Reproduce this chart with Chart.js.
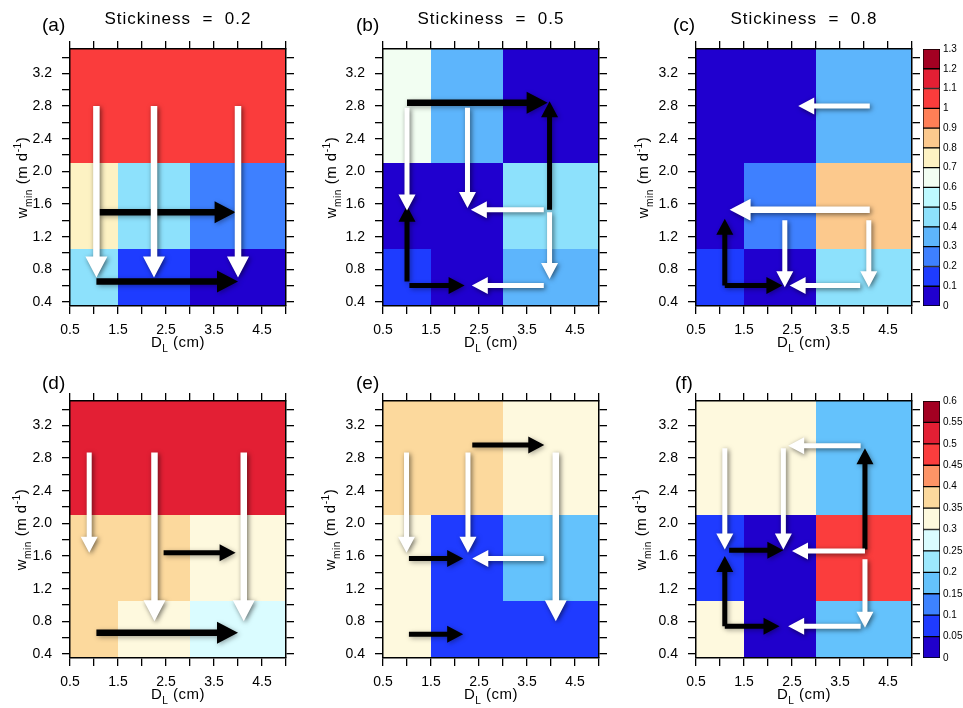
<!DOCTYPE html>
<html>
<head>
<meta charset="utf-8">
<script src="https://cdn.jsdelivr.net/npm/chart.js@4.4.1/dist/chart.umd.min.js"></script>
<style>
  html, body { margin: 0; padding: 0; background: #fff; }
  #quadro { position: relative; width: 963px; height: 708px; overflow: hidden; background: #fff; }
  #quadro canvas { position: absolute; }
</style>
</head>
<body>
<div id="quadro"></div>
<script>
// limites das celulas: D_L (cm) e w_min (m/d)
const limitesD = [0.5, 1.5, 3.0, 5.0]
const limitesW = [0.35, 1.05, 2.1, 3.5]

// ticks dos eixos
const ticksX = [0.5, 1.0, 1.5, 2.0, 2.5, 3.0, 3.5, 4.0, 4.5, 5.0]
const rotulosX = ['0.5', '', '1.5', '', '2.5', '', '3.5', '', '4.5', '']
const ticksY = [0.4, 0.6, 0.8, 1.0, 1.2, 1.4, 1.6, 1.8, 2.0, 2.2, 2.4, 2.6, 2.8, 3.0, 3.2, 3.4]
const rotulosY = ['0.4', '', '0.8', '', '1.2', '', '1.6', '', '2.0', '', '2.4', '', '2.8', '', '3.2', '']

// barras de cores
const niveisCima = [0, 0.1, 0.2, 0.3, 0.4, 0.5, 0.6, 0.7, 0.8, 0.9, 1.0, 1.1, 1.2, 1.3]
const coresCima = ['#2000cf', '#1e3cff', '#3e80ff', '#5db5fc', '#8de1fc', '#bdf9ff', '#f2fef2',
                   '#fdf2c3', '#fcc98d', '#ff7f56', '#fa3c3c', '#e31f34', '#a30022']
const niveisBaixo = [0, 0.05, 0.1, 0.15, 0.2, 0.25, 0.3, 0.35, 0.4, 0.45, 0.5, 0.55, 0.6]
const coresBaixo = ['#2000cc', '#1f3bff', '#3d82ff', '#64c2fc', '#9de8fd', '#dafcff',
                    '#fef9de', '#fcd99d', '#fd9466', '#fb3d3d', '#e31f34', '#a30022']

// valores das celulas: linhas w = 0.7, 1.4, 2.8 ; colunas D = 1, 2, 4
const valoresA = [[0.45, 0.15, 0.05], [0.75, 0.45, 0.25], [1.05, 1.05, 1.05]]
const valoresB = [[0.15, 0.05, 0.35], [0.05, 0.05, 0.45], [0.65, 0.35, 0.05]]
const valoresC = [[0.15, 0.05, 0.45], [0.05, 0.25, 0.85], [0.05, 0.05, 0.35]]
const valoresD = [[0.375, 0.325, 0.275], [0.375, 0.375, 0.325], [0.525, 0.525, 0.525]]
const valoresE = [[0.325, 0.075, 0.075], [0.325, 0.075, 0.175], [0.375, 0.375, 0.325]]
const valoresF = [[0.325, 0.025, 0.175], [0.075, 0.025, 0.475], [0.325, 0.325, 0.175]]

// setas: [D inicio, w inicio, D fim, w fim, cor, tamanho]
const setasA = [
  [1.1, 1.5, 3.95, 1.5, 'k', 'G'], [1.05, 0.65, 4.0, 0.65, 'k', 'G'],
  [1.05, 2.8, 1.05, 0.7, 'w', 'G'], [2.25, 2.8, 2.25, 0.7, 'w', 'G'], [4.0, 2.8, 4.0, 0.7, 'w', 'G']
]
const setasB = [
  [1.0, 2.84, 3.93, 2.84, 'k', 'G'], [3.97, 1.53, 3.97, 2.86, 'k', 'M'],
  [1.0, 0.65, 1.0, 1.58, 'k', 'M'], [1.05, 0.6, 2.2, 0.6, 'k', 'M'],
  [1.0, 2.78, 1.0, 1.52, 'w', 'M'], [2.26, 2.78, 2.26, 1.55, 'w', 'M'],
  [3.85, 1.53, 2.33, 1.53, 'w', 'M'], [3.97, 1.5, 3.97, 0.68, 'w', 'M'],
  [3.85, 0.6, 2.35, 0.6, 'w', 'M']
]
const setasC = [
  [1.1, 0.6, 1.1, 1.42, 'k', 'M'], [1.1, 0.6, 2.3, 0.6, 'k', 'M'],
  [4.12, 2.8, 2.63, 2.8, 'w', 'M'], [4.12, 1.53, 1.2, 1.53, 'w', 'G'],
  [2.35, 1.4, 2.35, 0.58, 'w', 'M'], [4.1, 1.4, 4.1, 0.58, 'w', 'M'],
  [3.92, 0.6, 2.45, 0.6, 'w', 'M']
]
const setasD = [
  [2.45, 1.64, 3.95, 1.64, 'k', 'M'], [1.05, 0.66, 4.0, 0.66, 'k', 'G'],
  [0.9, 2.87, 0.9, 1.64, 'w', 'M'], [2.26, 2.87, 2.26, 0.8, 'w', 'G'], [4.12, 2.87, 4.12, 0.8, 'w', 'G']
]
const setasE = [
  [2.36, 2.96, 3.86, 2.96, 'k', 'M'], [1.04, 1.57, 2.17, 1.57, 'k', 'M'], [1.04, 0.64, 2.17, 0.64, 'k', 'M'],
  [0.99, 2.87, 0.99, 1.64, 'w', 'M'], [2.27, 2.87, 2.27, 1.64, 'w', 'M'],
  [4.1, 2.87, 4.1, 0.8, 'w', 'G'], [3.85, 1.57, 2.36, 1.57, 'w', 'M']
]
const setasF = [
  [4.02, 1.68, 4.02, 2.92, 'k', 'M'], [1.19, 1.67, 2.32, 1.67, 'k', 'M'],
  [1.1, 0.74, 1.1, 1.6, 'k', 'M'], [1.1, 0.74, 2.24, 0.74, 'k', 'M'],
  [3.93, 2.95, 2.42, 2.95, 'w', 'M'], [1.1, 2.92, 1.1, 1.68, 'w', 'M'],
  [2.32, 2.92, 2.32, 1.68, 'w', 'M'], [4.02, 1.66, 2.5, 1.66, 'w', 'M'],
  [4.02, 1.56, 4.02, 0.72, 'w', 'M'], [3.93, 0.74, 2.42, 0.74, 'w', 'M']
]

const FONTE = '"Liberation Sans", Arial, sans-serif'
const tamSeta = { G: [22, 21, 6.5], M: [17, 16, 5] } // largura cabeca, comprimento cabeca, haste
const quadro = document.getElementById('quadro')

const corDoValor = (v, niveis, cores) => {
  for (let i = 0; i < cores.length; i++) {
    if (v >= niveis[i] && v < niveis[i + 1]) return cores[i]
  }
  return cores[cores.length - 1]
}

const novoCanvas = (caixa) => {
  const cv = document.createElement('canvas')
  cv.width = caixa[2]
  cv.height = caixa[3]
  cv.style.left = caixa[0] + 'px'
  cv.style.top = caixa[1] + 'px'
  quadro.appendChild(cv)
  return cv
}

// texto com subscrito / sobrescrito
const textoRico = (ctx, partes, x, y, tam, girar) => {
  ctx.save()
  ctx.translate(x, y)
  if (girar) ctx.rotate(-Math.PI / 2)
  ctx.fillStyle = '#000'
  ctx.textBaseline = 'alphabetic'
  ctx.textAlign = 'left'
  if ('letterSpacing' in ctx) ctx.letterSpacing = '0.5px'
  let total = 0
  partes.forEach(p => {
    ctx.font = (p[1] ? tam * 0.68 : tam) + 'px ' + FONTE
    total += ctx.measureText(p[0]).width
  })
  let cx = -total / 2
  partes.forEach(p => {
    ctx.font = (p[1] ? tam * 0.68 : tam) + 'px ' + FONTE
    const dy = p[1] === 'sub' ? tam * 0.3 : p[1] === 'sup' ? -tam * 0.42 : 0
    ctx.fillText(p[0], cx, dy)
    cx += ctx.measureText(p[0]).width
  })
  ctx.restore()
}

const desenhaSeta = (ctx, x0, y0, x1, y1, cor, tam) => {
  const [lc, cc, h] = tamSeta[tam]
  const len = Math.hypot(x1 - x0, y1 - y0)
  const dx = (x1 - x0) / len, dy = (y1 - y0) / len
  const nx = -dy, ny = dx
  const bx = x1 - dx * cc, by = y1 - dy * cc
  ctx.save()
  ctx.beginPath()
  ctx.moveTo(x0 + nx * h / 2, y0 + ny * h / 2)
  ctx.lineTo(bx + nx * h / 2, by + ny * h / 2)
  ctx.lineTo(bx + nx * lc / 2, by + ny * lc / 2)
  ctx.lineTo(x1, y1)
  ctx.lineTo(bx - nx * lc / 2, by - ny * lc / 2)
  ctx.lineTo(bx - nx * h / 2, by - ny * h / 2)
  ctx.lineTo(x0 - nx * h / 2, y0 - ny * h / 2)
  ctx.closePath()
  ctx.shadowColor = cor === 'w' ? 'rgba(0,0,0,0.55)' : 'rgba(0,0,0,0.35)'
  ctx.shadowBlur = 5
  ctx.shadowOffsetX = 1.5
  ctx.shadowOffsetY = 1.5
  ctx.fillStyle = cor === 'w' ? '#ffffff' : '#000000'
  ctx.fill()
  ctx.restore()
}

// plugin que pinta as celulas, as setas e os textos de cada painel
const painelPlugin = {
  id: 'painel',
  beforeDraw: (chart) => {
    const p = chart.options.plugins.painel
    const ctx = chart.ctx
    const sx = chart.scales.x, sy = chart.scales.y
    p.valores.forEach((linha, r) => {
      linha.forEach((v, c) => {
        const xa = Math.round(sx.getPixelForValue(limitesD[c]))
        const xb = Math.round(sx.getPixelForValue(limitesD[c + 1]))
        const ya = Math.round(sy.getPixelForValue(limitesW[r]))
        const yb = Math.round(sy.getPixelForValue(limitesW[r + 1]))
        ctx.fillStyle = corDoValor(v, p.niveis, p.cores)
        ctx.fillRect(xa, yb, xb - xa, ya - yb)
      })
    })
  },
  afterDraw: (chart) => {
    const p = chart.options.plugins.painel
    const ctx = chart.ctx
    const sx = chart.scales.x, sy = chart.scales.y
    const area = chart.chartArea
    const pretas = p.setas.filter(s => s[4] === 'k')
    const brancas = p.setas.filter(s => s[4] === 'w')
    pretas.concat(brancas).forEach(s => {
      desenhaSeta(ctx, sx.getPixelForValue(s[0]), sy.getPixelForValue(s[1]),
                  sx.getPixelForValue(s[2]), sy.getPixelForValue(s[3]), s[4], s[5])
    })
    const ox = p.caixa[0], oy = p.caixa[1]
    ctx.save()
    ctx.fillStyle = '#000'
    ctx.textBaseline = 'alphabetic'
    ctx.font = '19px ' + FONTE
    ctx.textAlign = 'left'
    ctx.fillText(p.letra, p.posLetra[0] - ox, p.posLetra[1] - oy)
    if (p.titulo) {
      ctx.font = '17px ' + FONTE
      ctx.textAlign = 'center'
      if ('letterSpacing' in ctx) ctx.letterSpacing = '1px'
      ctx.fillText(p.titulo, (area.left + area.right) / 2, 24 - oy)
    }
    ctx.restore()
    textoRico(ctx, [['D', 0], ['L', 'sub'], [' (cm)', 0]], (area.left + area.right) / 2, area.bottom + 41, 15, false)
    textoRico(ctx, [['w', 0], ['min', 'sub'], [' (m d', 0], ['-1', 'sup'], [')', 0]],
              p.xTituloY - ox, (area.top + area.bottom) / 2, 15, true)
  }
}

const eixo = (pos, ticks, rotulos, min, max, tamanho) => ({
  type: 'linear',
  axis: pos === 'top' || pos === 'bottom' ? 'x' : 'y',
  position: pos,
  min: min,
  max: max,
  afterBuildTicks: s => { s.ticks = ticks.map(v => ({ value: v })) },
  afterFit: s => {
    if (pos === 'top' || pos === 'bottom') s.height = tamanho
    else s.width = tamanho
  },
  grid: { drawOnChartArea: false, drawTicks: true, tickLength: 8, color: '#000', lineWidth: 1.3 },
  border: { display: true, color: '#000', width: 1.5 },
  ticks: {
    display: rotulos !== null,
    autoSkip: false,
    maxRotation: 0,
    minRotation: 0,
    padding: pos === 'left' ? 10 : 8,
    color: '#000',
    font: { family: FONTE, size: 14 },
    callback: (v, i) => rotulos ? rotulos[i] : ''
  }
})

const criaPainel = (cfg) => {
  const cv = novoCanvas(cfg.caixa)
  const [cl, ct, cw, ch] = cfg.caixa
  const [pl, pt, pr, pb] = cfg.area
  new Chart(cv, {
    type: 'scatter',
    data: { datasets: [] },
    options: {
      responsive: false,
      animation: false,
      layout: { padding: 0 },
      plugins: {
        legend: { display: false },
        tooltip: { enabled: false },
        painel: cfg
      },
      scales: {
        x: eixo('bottom', ticksX, rotulosX, 0.5, 5.0, ct + ch - pb),
        x2: eixo('top', ticksX, null, 0.5, 5.0, pt - ct),
        y: eixo('left', ticksY, rotulosY, 0.35, 3.5, pl - cl),
        y2: eixo('right', ticksY, null, 0.35, 3.5, cl + cw - pr)
      }
    },
    plugins: [painelPlugin]
  })
}

const criaBarraCores = (caixa, area, niveis, cores) => {
  const cv = novoCanvas(caixa)
  const [cl, ct, cw, ch] = caixa
  const [pl, pt, pr, pb] = area
  new Chart(cv, {
    type: 'bar',
    data: {
      labels: [''],
      datasets: cores.map((c, i) => ({
        data: [[niveis[i], niveis[i + 1]]],
        backgroundColor: c,
        borderColor: '#000',
        borderWidth: 1,
        borderSkipped: false,
        grouped: false,
        barPercentage: 1,
        categoryPercentage: 1
      }))
    },
    options: {
      responsive: false,
      animation: false,
      layout: { padding: { left: pl - cl, top: pt - ct, bottom: ct + ch - pb, right: 0 } },
      plugins: { legend: { display: false }, tooltip: { enabled: false } },
      scales: {
        x: { display: false },
        y: {
          position: 'right',
          min: niveis[0],
          max: niveis[niveis.length - 1],
          afterBuildTicks: s => { s.ticks = niveis.map(v => ({ value: v })) },
          afterFit: s => { s.width = cl + cw - pr },
          grid: { display: false, drawTicks: false },
          border: { display: false },
          ticks: {
            padding: 3,
            color: '#000',
            font: { family: FONTE, size: 10 },
            callback: v => String(+v.toFixed(2))
          }
        }
      }
    }
  })
}

const paineis = [
  { letra: '(a)', titulo: 'Stickiness  =  0.2', valores: valoresA, setas: setasA, niveis: niveisCima, cores: coresCima,
    caixa: [0, 0, 321, 354], area: [70, 49, 286, 306], posLetra: [42, 31], xTituloY: 27 },
  { letra: '(b)', titulo: 'Stickiness  =  0.5', valores: valoresB, setas: setasB, niveis: niveisCima, cores: coresCima,
    caixa: [321, 0, 321, 354], area: [383, 49, 599, 306], posLetra: [356, 31], xTituloY: 336 },
  { letra: '(c)', titulo: 'Stickiness  =  0.8', valores: valoresC, setas: setasC, niveis: niveisCima, cores: coresCima,
    caixa: [630, 0, 290, 354], area: [696, 49, 912, 306], posLetra: [673, 31], xTituloY: 648 },
  { letra: '(d)', titulo: null, valores: valoresD, setas: setasD, niveis: niveisBaixo, cores: coresBaixo,
    caixa: [0, 354, 321, 354], area: [70, 401, 286, 658], posLetra: [42, 389], xTituloY: 26 },
  { letra: '(e)', titulo: null, valores: valoresE, setas: setasE, niveis: niveisBaixo, cores: coresBaixo,
    caixa: [321, 354, 321, 354], area: [383, 401, 599, 658], posLetra: [356, 389], xTituloY: 335 },
  { letra: '(f)', titulo: null, valores: valoresF, setas: setasF, niveis: niveisBaixo, cores: coresBaixo,
    caixa: [630, 354, 290, 354], area: [696, 401, 912, 658], posLetra: [675, 389], xTituloY: 646 }
]

paineis.forEach(criaPainel)
criaBarraCores([918, 0, 45, 354], [923, 49, 940, 306], niveisCima, coresCima)
criaBarraCores([918, 354, 45, 354], [923, 401, 940, 658], niveisBaixo, coresBaixo)
</script>
</body>
</html>
